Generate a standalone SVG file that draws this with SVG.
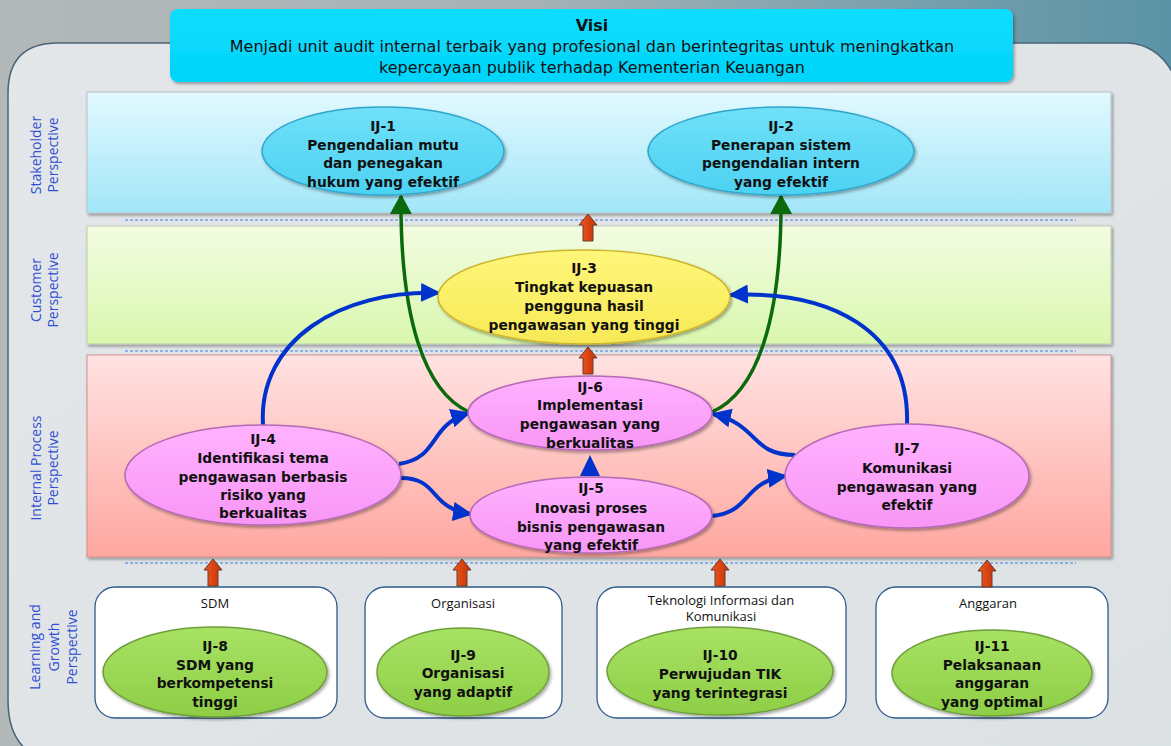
<svg xmlns="http://www.w3.org/2000/svg" width="1171" height="746" viewBox="0 0 1171 746">
<style>
.v{font-family:"DejaVu Sans","Liberation Sans",sans-serif;font-size:16px;fill:#111;text-anchor:middle}
.n{font-family:"DejaVu Sans","Liberation Sans",sans-serif;font-weight:bold;font-size:13.8px;fill:#111;text-anchor:middle}
.p{font-family:"Open Sans","Liberation Sans",sans-serif;font-size:14px;fill:#2E4FD6;text-anchor:middle}
.b{font-family:"Open Sans","Liberation Sans",sans-serif;font-size:13px;fill:#111;text-anchor:middle}
.dash{stroke:#3B7FE0;stroke-width:1;stroke-dasharray:3 2;fill:none}
.blue{stroke:#0033CC;stroke-width:4;fill:none;marker-end:url(#ahBlue)}
.green{stroke:#0B6A0B;stroke-width:3.5;fill:none;marker-end:url(#ahGreen)}
.cy{fill:url(#gCy);stroke:#2EA6CC;stroke-width:1.5;filter:url(#sh)}
.ye{fill:url(#gYe);stroke:#CDB62E;stroke-width:1.5;filter:url(#sh)}
.pk{fill:url(#gPk);stroke:#B56AB5;stroke-width:1.5;filter:url(#sh)}
.gr{fill:url(#gGr);stroke:#6E9E3C;stroke-width:1.5;filter:url(#sh)}
.box{fill:#fff;stroke:#2F5A8A;stroke-width:1.3}
.ra{fill:url(#gRed);stroke:#6A3A2A;stroke-width:1}
</style>
<defs>
<linearGradient id="gBg" x1="0" y1="0" x2="1" y2="0">
<stop offset="0" stop-color="#B3B8B8"/><stop offset="0.45" stop-color="#A6B2B6"/><stop offset="1" stop-color="#5A93A6"/>
</linearGradient>
<linearGradient id="gPanel" x1="0" y1="0" x2="1" y2="1">
<stop offset="0" stop-color="#E4E7E9"/><stop offset="1" stop-color="#DCE1E4"/>
</linearGradient>
<linearGradient id="gVis" x1="0" y1="0" x2="0" y2="1">
<stop offset="0" stop-color="#10DDFF"/><stop offset="1" stop-color="#00D4FA"/>
</linearGradient>
<linearGradient id="gS" x1="0" y1="0" x2="0" y2="1">
<stop offset="0" stop-color="#E2F9FF"/><stop offset="1" stop-color="#A2E6F8"/>
</linearGradient>
<linearGradient id="gC" x1="0" y1="0" x2="0" y2="1">
<stop offset="0" stop-color="#F3FCE2"/><stop offset="1" stop-color="#D9F7AE"/>
</linearGradient>
<linearGradient id="gI" x1="0" y1="0" x2="0" y2="1">
<stop offset="0" stop-color="#FFE2E2"/><stop offset="1" stop-color="#FFA7A0"/>
</linearGradient>
<linearGradient id="gCy" x1="0" y1="0" x2="0" y2="1">
<stop offset="0" stop-color="#70E0F8"/><stop offset="1" stop-color="#4CD2F2"/>
</linearGradient>
<linearGradient id="gYe" x1="0" y1="0" x2="0" y2="1">
<stop offset="0" stop-color="#FFF67A"/><stop offset="1" stop-color="#F7E956"/>
</linearGradient>
<linearGradient id="gPk" x1="0" y1="0" x2="0" y2="1">
<stop offset="0" stop-color="#FFB2FF"/><stop offset="1" stop-color="#F896F6"/>
</linearGradient>
<linearGradient id="gGr" x1="0" y1="0" x2="0" y2="1">
<stop offset="0" stop-color="#A8E264"/><stop offset="1" stop-color="#8ECE46"/>
</linearGradient>
<linearGradient id="gRed" x1="0" y1="0" x2="1" y2="0">
<stop offset="0" stop-color="#F0581E"/><stop offset="1" stop-color="#C23208"/>
</linearGradient>
<filter id="sh" x="-10%" y="-10%" width="130%" height="140%">
<feDropShadow dx="1.5" dy="2" stdDeviation="1.5" flood-color="#000" flood-opacity="0.35"/>
</filter>
<marker id="ahBlue" markerUnits="userSpaceOnUse" markerWidth="20" markerHeight="20" viewBox="0 0 20 20" refX="18" refY="10" orient="auto">
<path d="M0,0.5 L20,10 L0,19.5 Z" fill="#0033CC"/>
</marker>
<marker id="ahGreen" markerUnits="userSpaceOnUse" markerWidth="20" markerHeight="22" viewBox="0 0 20 22" refX="18" refY="11" orient="auto">
<path d="M0,0 L20,11 L0,22 Z" fill="#0B6A0B"/>
</marker>
<path id="ra" class="ra" d="M0,0 L9,11 L5,11 L5,27 L-5,27 L-5,11 L-9,11 Z"/>
</defs>

<!-- background -->
<rect x="0" y="0" width="1171" height="746" fill="url(#gBg)"/>
<path d="M8,93 Q8,43 58,43 L1128,43 Q1165,45 1180,90 L1180,760 L50,760 Q8,752 8,700 Z" fill="url(#gPanel)" stroke="#4A6478" stroke-width="1.5"/>

<!-- vision -->
<g id="visi">
<rect x="170" y="9" width="843" height="73" rx="8" fill="url(#gVis)" filter="url(#sh)"/>
<text class="v" x="592" y="31" font-weight="bold">Visi</text>
<text class="v" x="592" y="52">Menjadi unit audit internal terbaik yang profesional dan berintegritas untuk meningkatkan</text>
<text class="v" x="592" y="73">kepercayaan publik terhadap Kementerian Keuangan</text>
</g>

<!-- perspective bands -->
<g id="band-stakeholder">
<rect x="87" y="92" width="1024" height="121" fill="url(#gS)" stroke="#B8C4C8" stroke-width="1" filter="url(#sh)"/>
<text class="p" transform="translate(41,155) rotate(-90)">Stakeholder</text>
<text class="p" transform="translate(58,155) rotate(-90)">Perspective</text>
</g>
<g id="band-customer">
<rect x="87" y="226" width="1024" height="118" fill="url(#gC)" stroke="#C0CCB0" stroke-width="1" filter="url(#sh)"/>
<text class="p" transform="translate(41,290) rotate(-90)">Customer</text>
<text class="p" transform="translate(58,290) rotate(-90)">Perspective</text>
</g>
<g id="band-internal">
<rect x="87" y="355" width="1024" height="202" fill="url(#gI)" stroke="#D09090" stroke-width="1" filter="url(#sh)"/>
<text class="p" transform="translate(41,468) rotate(-90)">Internal Process</text>
<text class="p" transform="translate(58,468) rotate(-90)">Perspective</text>
</g>
<g id="band-learning">
<text class="p" transform="translate(40,647) rotate(-90)">Learning and</text>
<text class="p" transform="translate(58.5,647) rotate(-90)">Growth</text>
<text class="p" transform="translate(77,647) rotate(-90)">Perspective</text>
</g>

<g id="dividers">
<line class="dash" x1="125" y1="220" x2="1076" y2="220"/>
<line class="dash" x1="125" y1="351" x2="1076" y2="351"/>
<line class="dash" x1="125" y1="563" x2="1076" y2="563"/>
</g>

<!-- learning boxes -->
<g id="box-sdm"><rect class="box" x="95" y="587" width="242" height="131" rx="20"/><text class="b" x="215" y="608">SDM</text></g>
<g id="box-org"><rect class="box" x="365" y="587" width="197" height="131" rx="20"/><text class="b" x="463" y="608">Organisasi</text></g>
<g id="box-tik"><rect class="box" x="597" y="587" width="249" height="131" rx="20"/><text class="b" x="721" y="605">Teknologi Informasi dan</text><text class="b" x="721" y="621">Komunikasi</text></g>
<g id="box-ang"><rect class="box" x="876" y="587" width="232" height="131" rx="20"/><text class="b" x="988" y="608">Anggaran</text></g>

<!-- connectors -->
<g id="connectors">
<use href="#ra" x="588" y="214"/>
<use href="#ra" x="588" y="347"/>
<use href="#ra" x="213" y="559"/>
<use href="#ra" x="462" y="559"/>
<use href="#ra" x="720" y="559"/>
<use href="#ra" x="987" y="560"/>
<path class="green" d="M469,412 C425,392 400,320 401,196"/>
<path class="green" d="M712,412 C757,392 782,320 781,196"/>
<path class="blue" d="M263,425 C258,340 340,290 439,293"/>
<path class="blue" d="M907,424 C910,330 830,290 730,295"/>
<path class="blue" d="M399,464 C440,458 428,425 469,413"/>
<path class="blue" d="M401,478 C440,478 428,508 471,514"/>
<path class="blue" d="M712,516 C752,512 742,482 786,476"/>
<path class="blue" d="M795,455 C750,455 760,425 713,414"/>
<polygon points="590,455 600,476 580,476" fill="#0033CC"/>
</g>

<!-- nodes -->
<g id="IJ-1"><ellipse class="cy" cx="383" cy="151" rx="121" ry="44"/>
<text class="n" x="383" y="131">IJ-1</text><text class="n" x="383" y="150">Pengendalian mutu</text><text class="n" x="383" y="168">dan penegakan</text><text class="n" x="383" y="187">hukum yang efektif</text></g>
<g id="IJ-2"><ellipse class="cy" cx="781" cy="151" rx="133" ry="44"/>
<text class="n" x="781" y="131">IJ-2</text><text class="n" x="781" y="150">Penerapan sistem</text><text class="n" x="781" y="168">pengendalian intern</text><text class="n" x="781" y="187">yang efektif</text></g>
<g id="IJ-3"><ellipse class="ye" cx="584" cy="297" rx="146" ry="47"/>
<text class="n" x="584" y="273">IJ-3</text><text class="n" x="584" y="292">Tingkat kepuasan</text><text class="n" x="584" y="311">pengguna hasil</text><text class="n" x="584" y="330">pengawasan yang tinggi</text></g>
<g id="IJ-6"><ellipse class="pk" cx="590" cy="413" rx="122" ry="37"/>
<text class="n" x="590" y="392">IJ-6</text><text class="n" x="590" y="410">Implementasi</text><text class="n" x="590" y="429">pengawasan yang</text><text class="n" x="590" y="448">berkualitas</text></g>
<g id="IJ-5"><ellipse class="pk" cx="591" cy="515" rx="121" ry="38"/>
<text class="n" x="591" y="493">IJ-5</text><text class="n" x="591" y="513">Inovasi proses</text><text class="n" x="591" y="532">bisnis pengawasan</text><text class="n" x="591" y="550">yang efektif</text></g>
<g id="IJ-4"><ellipse class="pk" cx="263" cy="475" rx="138" ry="50"/>
<text class="n" x="263" y="444">IJ-4</text><text class="n" x="263" y="463">Identifikasi tema</text><text class="n" x="263" y="482">pengawasan berbasis</text><text class="n" x="263" y="500">risiko yang</text><text class="n" x="263" y="518">berkualitas</text></g>
<g id="IJ-7"><ellipse class="pk" cx="907" cy="476" rx="122" ry="52"/>
<text class="n" x="907" y="453">IJ-7</text><text class="n" x="907" y="473">Komunikasi</text><text class="n" x="907" y="492">pengawasan yang</text><text class="n" x="907" y="510">efektif</text></g>
<g id="IJ-8"><ellipse class="gr" cx="215" cy="672" rx="112" ry="45"/>
<text class="n" x="215" y="651">IJ-8</text><text class="n" x="215" y="670">SDM yang</text><text class="n" x="215" y="688">berkompetensi</text><text class="n" x="215" y="707">tinggi</text></g>
<g id="IJ-9"><ellipse class="gr" cx="463" cy="672" rx="86" ry="44"/>
<text class="n" x="463" y="660">IJ-9</text><text class="n" x="463" y="678">Organisasi</text><text class="n" x="463" y="697">yang adaptif</text></g>
<g id="IJ-10"><ellipse class="gr" cx="720" cy="671" rx="113" ry="44"/>
<text class="n" x="720" y="660">IJ-10</text><text class="n" x="720" y="679">Perwujudan TIK</text><text class="n" x="720" y="698">yang terintegrasi</text></g>
<g id="IJ-11"><ellipse class="gr" cx="992" cy="673" rx="100" ry="43"/>
<text class="n" x="992" y="651">IJ-11</text><text class="n" x="992" y="670">Pelaksanaan</text><text class="n" x="992" y="688">anggaran</text><text class="n" x="992" y="707">yang optimal</text></g>
</svg>
